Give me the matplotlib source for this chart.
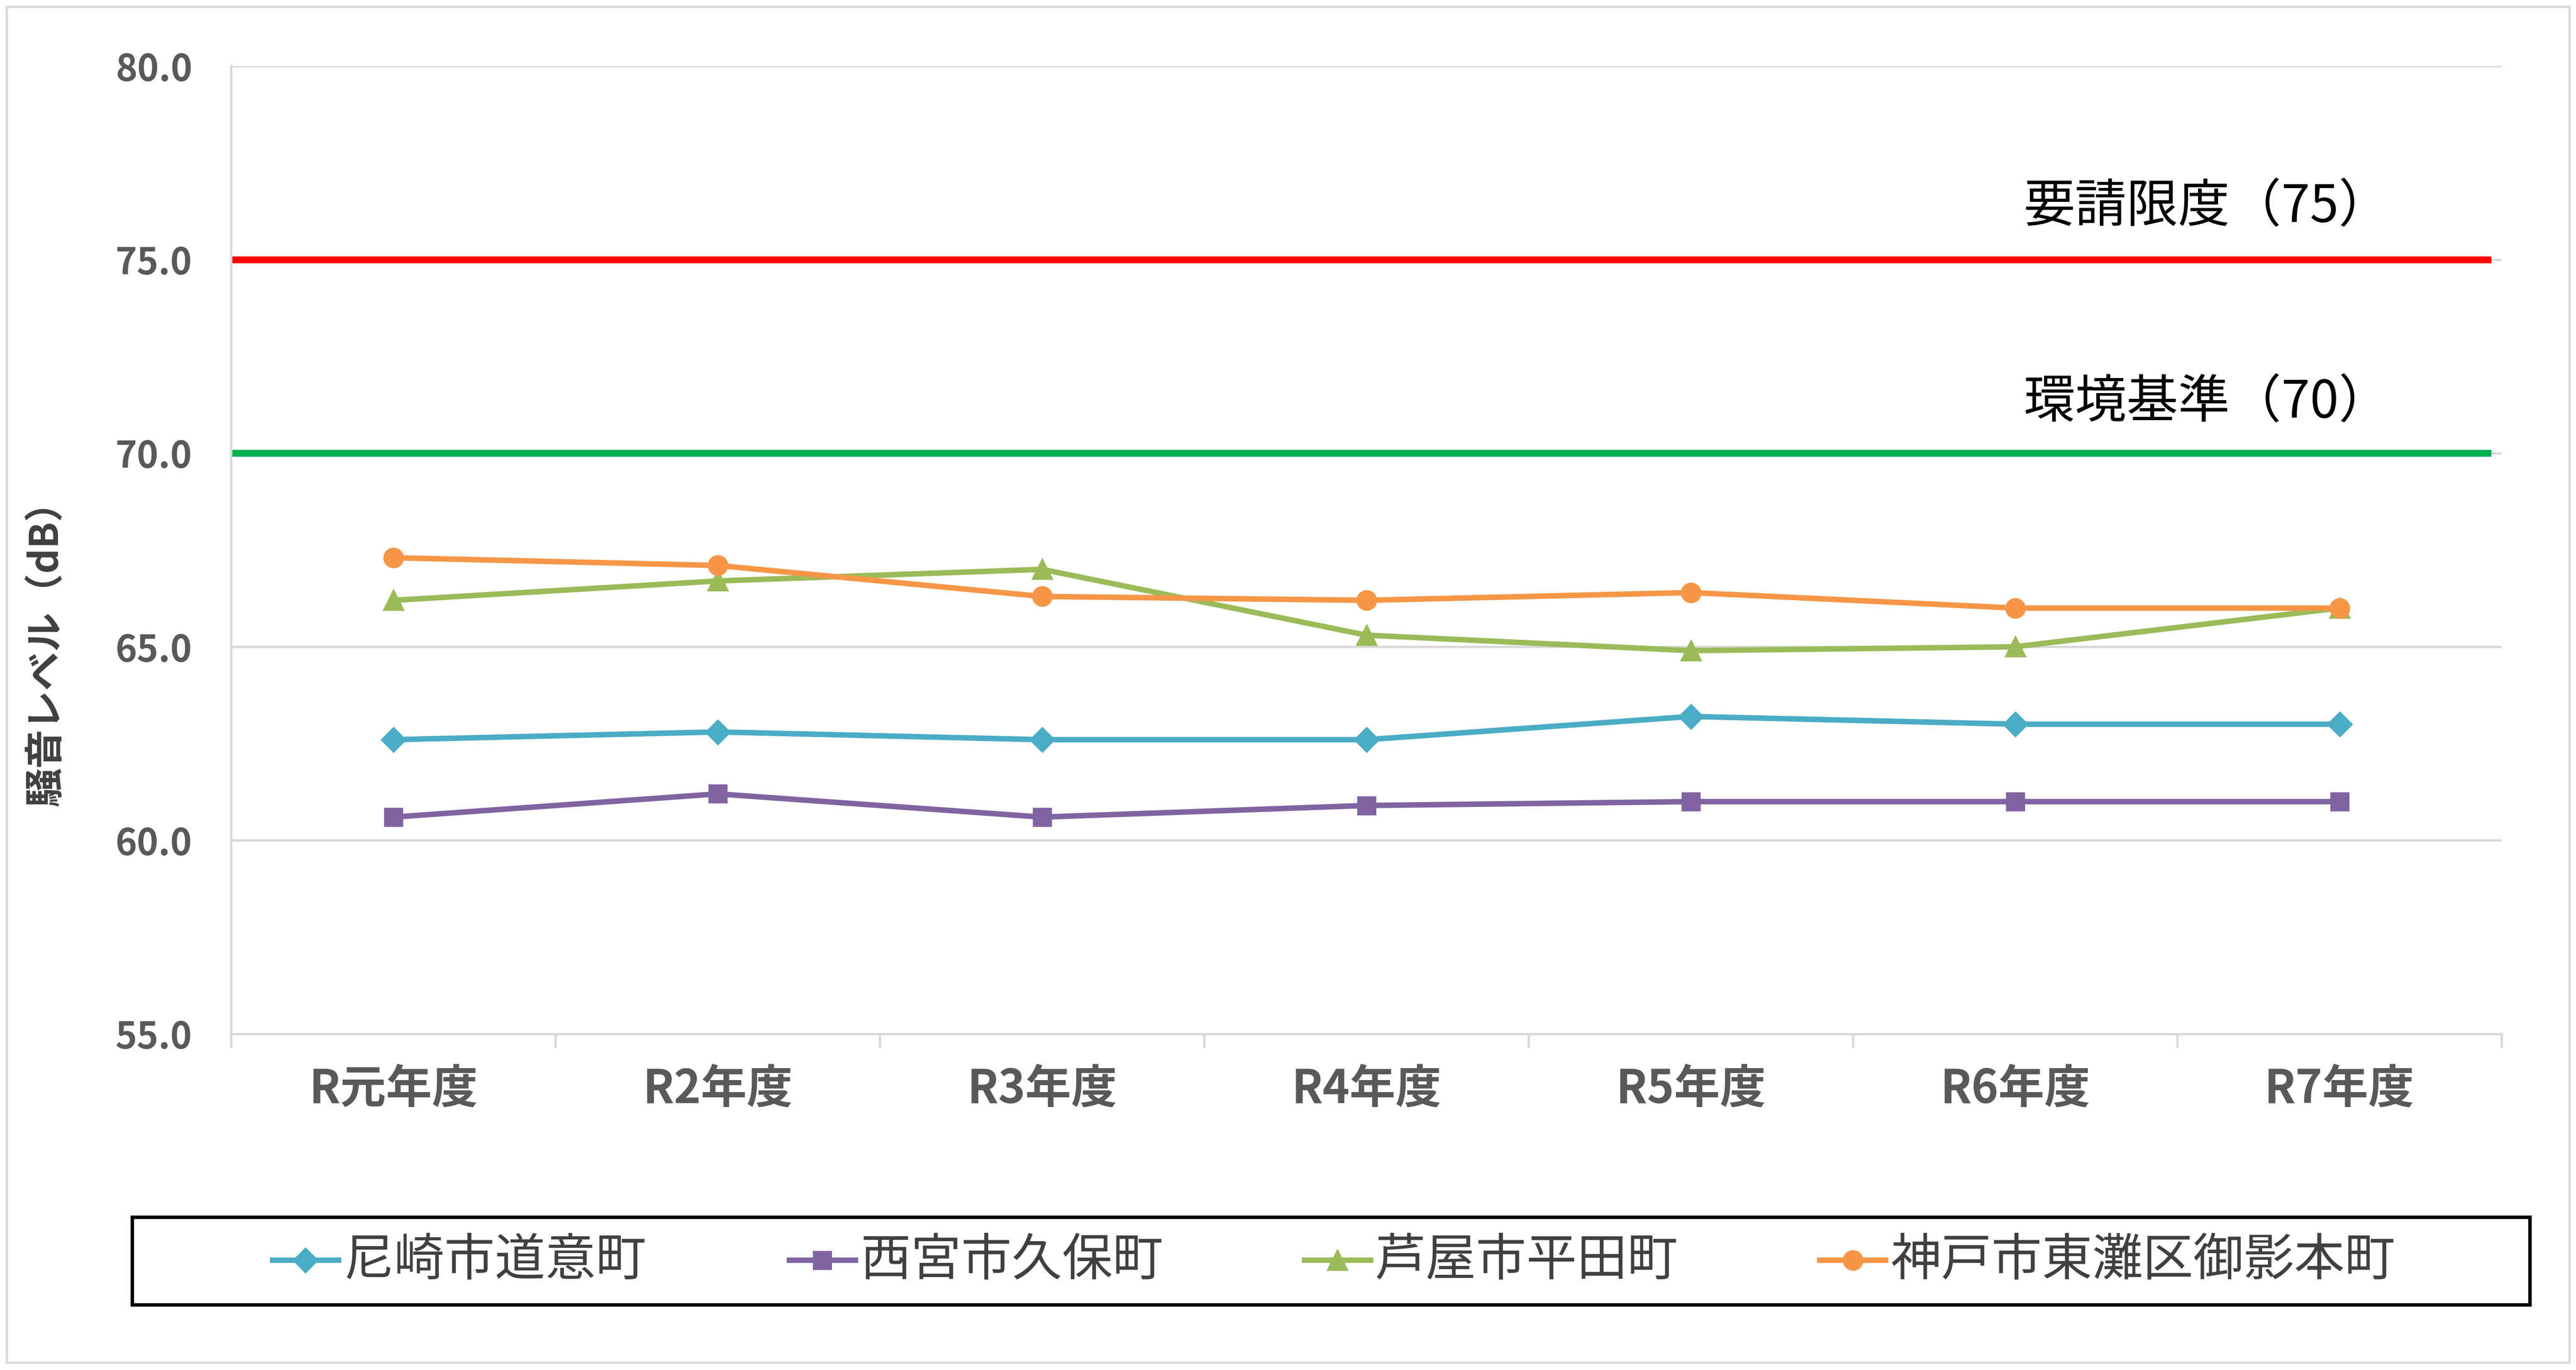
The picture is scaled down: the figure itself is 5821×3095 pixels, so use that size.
import matplotlib
matplotlib.use("Agg")
import matplotlib.pyplot as plt
from matplotlib.lines import Line2D
from matplotlib.patches import Rectangle

plt.rcParams['font.family'] = ['Noto Sans CJK JP', 'DejaVu Sans']

categories = ["R元年度", "R2年度", "R3年度", "R4年度", "R5年度", "R6年度", "R7年度"]
series_names = ["尼崎市道意町", "西宮市久保町", "芦屋市平田町", "神戸市東灘区御影本町"]
amagasaki = [62.6, 62.8, 62.6, 62.6, 63.2, 63.0, 63.0]
nishinomiya = [60.6, 61.2, 60.6, 60.9, 61.0, 61.0, 61.0]
ashiya = [66.2, 66.7, 67.0, 65.3, 64.9, 65.0, 66.0]
kobe = [67.3, 67.1, 66.3, 66.2, 66.4, 66.0, 66.0]
limit_request = 75
env_standard = 70
yticks = [55.0, 60.0, 65.0, 70.0, 75.0, 80.0]

colors = ["#4BACC6", "#8064A2", "#9BBB59", "#F79646"]
markers = ["D", "s", "^", "o"]
msizes = [7, 7.5, 8, 8]

W, H = 5821, 3095
DPI = 373
fig = plt.figure(figsize=(W / DPI, H / DPI), dpi=DPI)
FW, FH = 1560.0, 829.5

def fx(px):
    return px / FW

def fy(py):
    return 1 - py / FH

ax = fig.add_axes([fx(140), fy(626), fx(1515) - fx(140), fy(40) - fy(626)])

x = list(range(len(categories)))
ax.set_xlim(-0.5, len(categories) - 0.5)
ax.set_ylim(55, 80)

for yv in yticks:
    ax.axhline(yv, color="#D9D9D9", lw=1.0, zorder=1)

ax.axhline(limit_request, xmin=0, xmax=0.994, color="#FF0000", lw=3.0, zorder=2)
ax.axhline(env_standard, xmin=0, xmax=0.994, color="#00B050", lw=3.0, zorder=2)

data = [amagasaki, nishinomiya, ashiya, kobe]
for vals, c, m, ms in zip(data, colors, markers, msizes):
    ax.plot(x, vals, color=c, lw=2.4, marker=m, markersize=ms, zorder=3)

ax.text(0.951, 76.35, "要請限度（75）", transform=ax.get_yaxis_transform(),
        ha="right", va="center", fontsize=22.5, color="#000000")
ax.text(0.951, 71.3, "環境基準（70）", transform=ax.get_yaxis_transform(),
        ha="right", va="center", fontsize=22.5, color="#000000")

for s in ["top", "right"]:
    ax.spines[s].set_visible(False)
ax.spines["left"].set_color("#D9D9D9")
ax.spines["bottom"].set_color("#D9D9D9")
ax.spines["left"].set_linewidth(1.0)
ax.spines["bottom"].set_linewidth(1.0)

ax.set_yticks(yticks)
ax.set_yticklabels([f"{v:.1f}" for v in yticks], fontsize=16, fontweight="bold", color="#595959")
ax.tick_params(axis="y", length=0, pad=17)

ax.set_xticks(x)
ax.set_xticklabels(categories, fontsize=20, fontweight="bold", color="#595959")
ax.set_xticks([i - 0.5 for i in range(len(categories) + 1)], minor=True)
ax.tick_params(axis="x", which="major", length=0, pad=14)
ax.tick_params(axis="x", which="minor", length=6, color="#D9D9D9", width=1.0)

fig.text(fx(28), fy(390), "騒音レベル（dB）", rotation=90, ha="center", va="center",
         fontsize=17, fontweight="bold", color="#404040")

# legend box
fig.add_artist(Rectangle((fx(80), fy(790)), fx(1532) - fx(80), fy(737) - fy(790),
                         transform=fig.transFigure, fill=False, edgecolor="#000000", lw=1.5))
starts = [165, 478, 790, 1102]
ly = fy(763)
for name, c, m, ms, sx in zip(series_names, colors, markers, msizes, starts):
    fig.add_artist(Line2D([fx(sx), fx(sx + 40)], [ly, ly], transform=fig.transFigure,
                          color=c, lw=2.4))
    fig.add_artist(Line2D([fx(sx + 20)], [ly], transform=fig.transFigure,
                          color=c, marker=m, markersize=ms, lw=0))
    fig.text(fx(sx + 43), ly, name, ha="left", va="center", fontsize=22, color="#404040")

# outer border
fig.add_artist(Rectangle((fx(4), fy(825)), fx(1556) - fx(4), fy(4) - fy(825),
                         transform=fig.transFigure, fill=False, edgecolor="#D9D9D9", lw=1.0))

fig.savefig("out.png", dpi=DPI)
